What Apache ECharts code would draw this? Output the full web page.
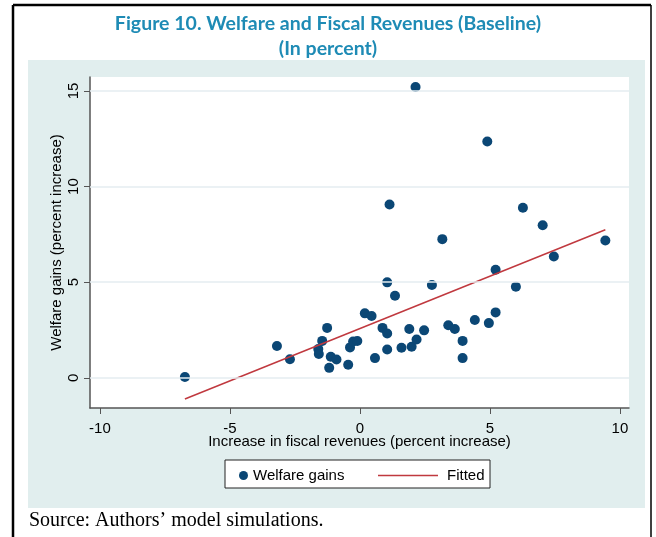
<!DOCTYPE html>
<html lang="en">
<head>
    <meta charset="UTF-8">
    <title>Figure 10</title>
    <script src="https://cdn.jsdelivr.net/npm/echarts@6/dist/echarts.min.js"></script>
</head>
<body style="margin:0">
<div id="main" style="width:656px;height:537px;"></div>
<script>
    // welfare gains vs fiscal revenue increase
    let welfareX = [-6.73, -3.19, -2.69, -1.26, -1.45, -1.60, -1.58, -1.12, -0.90, -1.18,
        -0.45, -0.38, -0.26, -0.10, 0.19, 0.45, 0.58, 0.87, 1.05, 1.05,
        1.05, 1.35, 1.60, 1.90, 1.99, 2.18, 2.47, 2.77, 3.40, 3.65,
        3.95, 3.95, 4.42, 4.96, 5.22, 5.22, 6.00, 7.46, 2.14, 4.90,
        1.14, 6.27, 7.03, 3.17, 9.44]
    let welfareY = [0.04, 1.66, 0.97, 2.61, 1.93, 1.50, 1.24, 1.10, 0.96, 0.52,
        0.68, 1.59, 1.90, 1.92, 3.37, 3.23, 1.03, 2.61, 2.32, 1.48,
        4.99, 4.29, 1.57, 2.55, 1.62, 2.00, 2.48, 4.85, 2.75, 2.55,
        1.93, 1.03, 3.02, 2.86, 3.42, 5.65, 4.76, 6.34, 15.21, 12.36,
        9.06, 8.89, 7.98, 7.25, 7.18]
    let fittedX = [-6.73, 9.44]
    let fittedY = [-1.11, 7.74]
    let xTicks = [-10, -5, 0, 5, 10]
    let yTicks = [0, 5, 10, 15]

    let points = welfareX.map((x, i) => [x, welfareY[i]])
    let fitted = fittedX.map((x, i) => [x, fittedY[i]])

    var myChart = echarts.init(document.getElementById('main'));
    let font = 'Liberation Sans, Arial, sans-serif'

    option = {
        backgroundColor: '#fff',
        animation: false,
        title: {
            text: 'Figure 10. Welfare and Fiscal Revenues (Baseline)\n(In percent)',
            left: 'center',
            top: 6,
            textStyle: {
                fontFamily: 'Lato, sans-serif',
                fontSize: 19.5,
                fontWeight: 'bold',
                color: '#1e8bb5',
                lineHeight: 25
            }
        },
        graphic: [
            {type: 'rect', z: -10, shape: {x: 28, y: 60, width: 617, height: 448}, style: {fill: '#e1eeee'}},
            {type: 'rect', z: 1, shape: {x: 225, y: 460, width: 265, height: 28}, style: {fill: '#fff', stroke: '#222', lineWidth: 1}},
            {type: 'line', z: 1, shape: {x1: 13, y1: 5, x2: 651, y2: 5}, style: {stroke: '#000', lineWidth: 2.5}},
            {type: 'line', z: 1, shape: {x1: 13, y1: 5, x2: 13, y2: 537}, style: {stroke: '#000', lineWidth: 2.5}},
            {type: 'line', z: 1, shape: {x1: 651, y1: 5, x2: 651, y2: 537}, style: {stroke: '#000', lineWidth: 1.5}},
            {type: 'text', z: 1, left: 29, top: 511, style: {text: 'Source: Authors\u2019 model simulations.', font: '20px "Liberation Serif", "Times New Roman", serif', fill: '#000'}}
        ],
        grid: {
            left: 90, top: 77, right: 27, bottom: 129,
            show: true, backgroundColor: '#fff', borderWidth: 0
        },
        legend: [
            {
                data: ['Welfare gains'], left: 234, top: 463,
                itemWidth: 9, itemHeight: 9, icon: 'circle',
                textStyle: {fontFamily: font, fontSize: 15, color: '#000'}
            },
            {
                data: [{name: 'Fitted', icon: 'rect'}], left: 373, top: 463,
                itemWidth: 60, itemHeight: 1.5, itemGap: 8,
                textStyle: {fontFamily: font, fontSize: 15, color: '#000', padding: [0, 0, 0, 4]}
            }
        ],
        xAxis: {
            type: 'value',
            min: -10.38, max: 10.35,
            name: 'Increase in fiscal revenues (percent increase)',
            nameLocation: 'middle',
            nameGap: 26,
            nameMoveOverlap: false,
            nameTextStyle: {fontFamily: font, fontSize: 15, color: '#000'},
            axisLine: {onZero: false, lineStyle: {color: '#555', width: 1.5}},
            axisTick: {show: true, length: 6, lineStyle: {color: '#555'}, customValues: xTicks},
            axisLabel: {fontFamily: font, fontSize: 15, color: '#000', margin: 13, customValues: xTicks},
            splitLine: {show: false}
        },
        yAxis: {
            type: 'value',
            min: -1.58, max: 15.73,
            name: 'Welfare gains (percent increase)',
            nameLocation: 'middle',
            nameGap: 26,
            nameMoveOverlap: false,
            nameTextStyle: {fontFamily: font, fontSize: 15, color: '#000'},
            axisLine: {show: true, onZero: false, lineStyle: {color: '#555', width: 1.5}},
            axisTick: {show: true, length: 6, lineStyle: {color: '#555'}, customValues: yTicks},
            axisLabel: {fontFamily: font, fontSize: 15, color: '#000', margin: 9, rotate: 90, customValues: yTicks},
            splitLine: {show: false}
        },
        series: [
            {
                name: 'Welfare gains',
                type: 'scatter',
                data: points,
                symbolSize: 10,
                itemStyle: {color: '#0b4775', opacity: 1},
                z: 3,
                markLine: {
                    silent: true,
                    symbol: 'none',
                    label: {show: false},
                    lineStyle: {color: '#e4edf1', width: 1.5, type: 'solid'},
                    data: yTicks.map(v => ({yAxis: v}))
                }
            },
            {
                name: 'Fitted',
                type: 'line',
                data: fitted,
                symbol: 'none',
                z: 4,
                itemStyle: {color: '#c0393f'},
                lineStyle: {color: '#c0393f', width: 1.5}
            }
        ]
    };

    myChart.setOption(option);
</script>
</body>
</html>
